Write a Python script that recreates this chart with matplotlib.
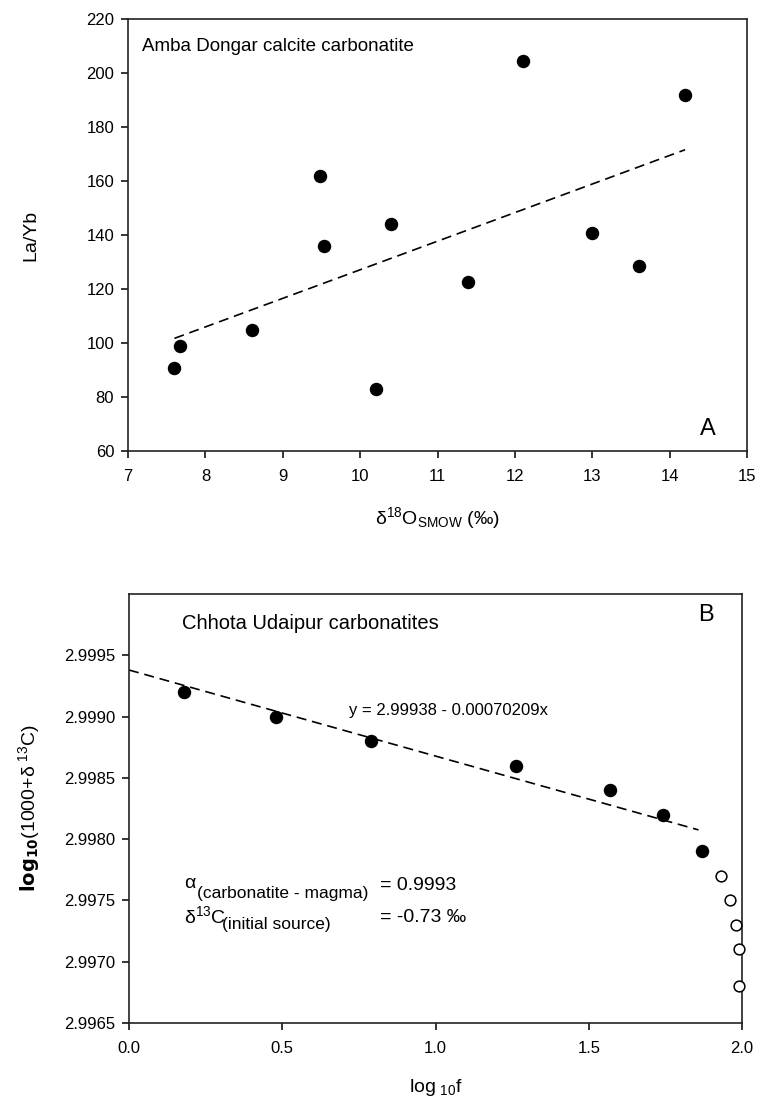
import matplotlib
matplotlib.use("Agg")
import matplotlib.pyplot as plt
import numpy as np

# panel A: Amba Dongar calcite carbonatite
d18o = [7.60, 7.67, 8.60, 9.48, 9.53, 10.20, 10.40, 11.40, 12.10, 13.00, 13.60, 14.20]
la_yb = [90.8, 99.0, 104.9, 161.9, 136.0, 82.9, 144.2, 122.5, 204.3, 140.9, 128.5, 191.8]

# panel B: Chhota Udaipur carbonatites
log_f = [0.178, 0.480, 0.790, 1.261, 1.570, 1.741, 1.869]
log_c = [2.9992, 2.9990, 2.9988, 2.9986, 2.9984, 2.9982, 2.9979]
log_f_open = [1.930, 1.960, 1.979, 1.989, 1.989]
log_c_open = [2.9977, 2.9975, 2.9973, 2.9971, 2.9968]
fit_b = (2.99938, -0.00070209)
fit_b_xmax = 1.858

plt.rcParams['font.family'] = ['Liberation Sans', 'DejaVu Sans']
plt.rcParams['mathtext.default'] = 'regular'
plt.rcParams['axes.linewidth'] = 1.2
plt.rcParams['axes.edgecolor'] = '#222222'

fig = plt.figure(figsize=(7.58, 10.98), dpi=100)
axA = fig.add_axes([0.1689, 0.5893, 0.8166, 0.3934])
axB = fig.add_axes([0.1702, 0.0683, 0.8087, 0.3907])

dash = (0, (6, 3.5))

# ---- panel A
axA.scatter(d18o, la_yb, s=75, color='black', zorder=3)
slope, icpt = np.polyfit(d18o, la_yb, 1)
xs = np.array([min(d18o), max(d18o)])
axA.plot(xs, icpt + slope * xs, color='black', lw=1.2, linestyle=dash)
axA.set_xlim(7, 15)
axA.set_ylim(60, 220)
axA.set_xticks(range(7, 16))
axA.set_yticks(range(60, 221, 20))
axA.text(0.023, 0.955, 'Amba Dongar calcite carbonatite', transform=axA.transAxes,
         fontsize=13.5, va='top', ha='left')
axA.text(0.937, 0.051, 'A', transform=axA.transAxes, fontsize=17, ha='center', va='center')
axA.set_ylabel('La/Yb', fontsize=14, labelpad=34)
axA.set_xlabel(r'$\delta^{18}$O$_{SMOW}$ (‰)', fontsize=14, labelpad=15)

# ---- panel B
axB.scatter(log_f, log_c, s=75, color='black', zorder=3)
axB.scatter(log_f_open, log_c_open, s=60, facecolors='white', edgecolors='black',
            linewidths=1.1, zorder=3, clip_on=False)
xb = np.array([0, fit_b_xmax])
axB.plot(xb, fit_b[0] + fit_b[1] * xb, color='black', lw=1.2, linestyle=dash)
axB.set_xlim(0, 2.0)
axB.set_ylim(2.9965, 3.0000)
axB.set_xticks([0.0, 0.5, 1.0, 1.5, 2.0])
axB.set_xticklabels(['0.0', '0.5', '1.0', '1.5', '2.0'])
axB.set_yticks([2.9965, 2.9970, 2.9975, 2.9980, 2.9985, 2.9990, 2.9995])
axB.set_yticklabels(['2.9965', '2.9970', '2.9975', '2.9980', '2.9985', '2.9990', '2.9995'])
axB.text(0.174, 2.99976, 'Chhota Udaipur carbonatites', fontsize=14.5, va='center', ha='left')
axB.text(0.941, 0.951, 'B', transform=axB.transAxes, fontsize=17, ha='center', va='center')
axB.text(0.718, 2.99905, 'y = 2.99938 - 0.00070209x', fontsize=12, va='center', ha='left')

# alpha and initial source annotation
axB.text(0.179, 2.99764, r'$\alpha$', fontsize=14, va='center')
axB.text(0.222, 2.99756, '(carbonatite - magma)', fontsize=12.5, va='center')
axB.text(0.819, 2.99762, '= 0.9993', fontsize=14, va='center')
axB.text(0.179, 2.99737, r'$\delta^{13}$C', fontsize=14, va='center')
axB.text(0.305, 2.99730, '(initial source)', fontsize=12.5, va='center')
axB.text(0.819, 2.99736, '= -0.73 ‰', fontsize=14, va='center')

axB.set_ylabel(r'$\mathbf{log_{10}}$(1000+$\delta^{\ 13}$C)', fontsize=14, labelpad=16)
axB.set_xlabel(r'log$_{\ 10}$f', fontsize=14, labelpad=15)

for ax in (axA, axB):
    ax.tick_params(direction='out', length=5, width=1.1, labelsize=12, top=False,
                   right=False, pad=5)
    ax.tick_params(axis='x', pad=8)

fig.savefig('out.png', dpi=100)
